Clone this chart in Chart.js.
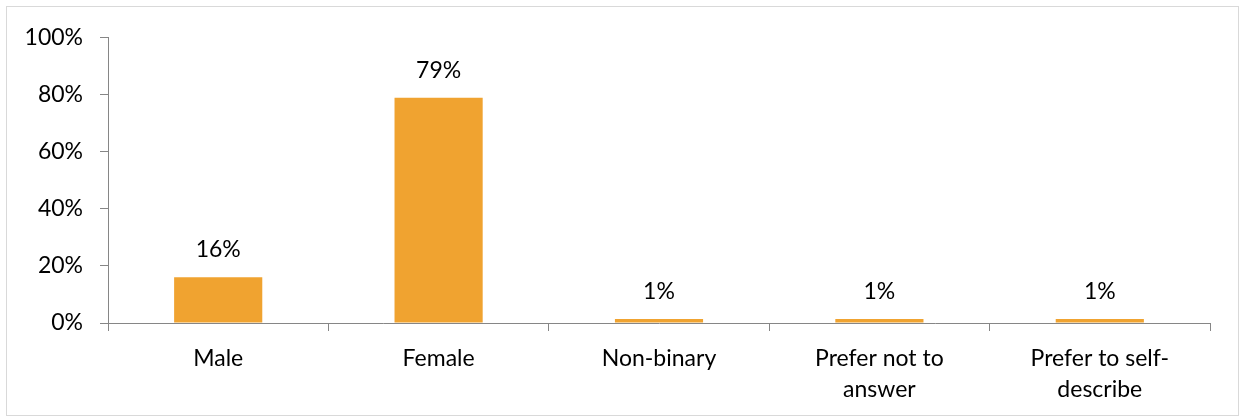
<!DOCTYPE html>
<html><head><meta charset="utf-8">
<script src="https://cdn.jsdelivr.net/npm/chart.js@4"></script>
<style>
html,body{margin:0;padding:0;background:#fff;}
#wrap{position:absolute;left:6px;top:6px;width:1231px;height:408px;border:1px solid #d9d9d9;}
canvas{display:block;}
</style></head><body>
<div id="wrap"><canvas id="c" width="1231" height="408"></canvas></div>
<script>
const categories = [["Male"], ["Female"], ["Non-binary"], ["Prefer not to", "answer"], ["Prefer to self-", "describe"]];
const values = [16, 79, 1, 1, 1];
const yTicks = [0, 20, 40, 60, 80, 100];

const FONT = "Lato, 'Open Sans', sans-serif";
const barLabels = {
  id: 'barLabels',
  afterDatasetsDraw(chart) {
    const ctx = chart.ctx;
    const meta = chart.getDatasetMeta(0);
    ctx.save();
    ctx.font = "23px " + FONT;
    ctx.fillStyle = "#000";
    ctx.textAlign = "center";
    ctx.textBaseline = "bottom";
    meta.data.forEach((bar, i) => {
      ctx.fillText(values[i] + "%", bar.x, bar.y - 16);
    });
    ctx.restore();
  }
};

new Chart(document.getElementById('c'), {
  type: 'bar',
  data: {
    labels: categories,
    datasets: [{
      data: values,
      backgroundColor: '#F0A330',
      categoryPercentage: 0.4,
      barPercentage: 1.0,
      minBarLength: 4
    }]
  },
  options: {
    responsive: false,
    animation: false,
    layout: { padding: { left: 0, right: 28, top: 30, bottom: 0 } },
    plugins: { legend: { display: false }, tooltip: { enabled: false } },
    scales: {
      x: {
        grid: { offset: true, drawOnChartArea: false, drawTicks: true, tickLength: 8, color: '#868686', tickColor: '#868686' },
        border: { color: '#868686', width: 1 },
        ticks: { font: { family: FONT, size: 23, lineHeight: 1.35 }, color: '#000', padding: 12, maxRotation: 0, autoSkip: false },
        afterFit(s) { s.height = 92; }
      },
      y: {
        min: 0, max: 100,
        afterBuildTicks(s) { s.ticks = yTicks.map(v => ({ value: v })); },
        grid: { drawOnChartArea: false, drawTicks: true, tickLength: 8, color: '#868686', tickColor: '#868686' },
        border: { color: '#868686', width: 1 },
        ticks: { font: { family: FONT, size: 23 }, color: '#000', padding: 17, callback: v => v + '%' },
        afterFit(s) { s.width = 101; }
      }
    }
  },
  plugins: [barLabels]
});
</script>
</body></html>
